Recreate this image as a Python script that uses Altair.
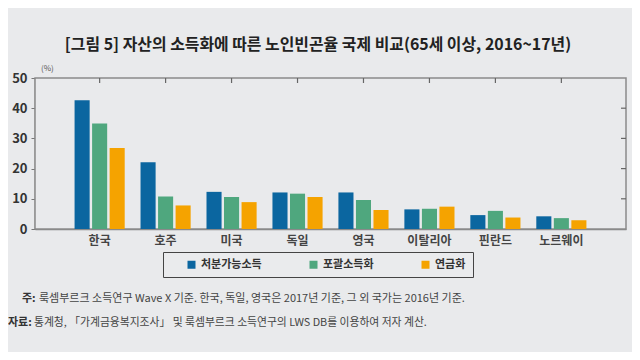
import altair as alt
import pandas as pd

countries = ["한국", "호주", "미국", "독일", "영국", "이탈리아", "핀란드", "노르웨이"]
series = ["처분가능소득", "포괄소득화", "연금화"]
disposable = [42.6, 22.1, 12.3, 12.1, 12.1, 6.5, 4.6, 4.2]
inclusive = [34.9, 10.8, 10.6, 11.7, 9.6, 6.7, 6.0, 3.6]
pension = [26.8, 7.8, 8.9, 10.6, 6.3, 7.4, 3.8, 2.9]
colors = ["#0b66a0", "#4fa77e", "#f5a300"]
y_ticks = [0, 10, 20, 30, 40, 50]

title_text = "[그림 5] 자산의 소득화에 따른 노인빈곤율 국제 비교(65세 이상, 2016~17년)"
note1_head = "주:"
note1 = "룩셈부르크 소득연구 Wave X 기준. 한국, 독일, 영국은 2017년 기준, 그 외 국가는 2016년 기준."
note2_head = "자료:"
note2 = "통계청, 「가계금융복지조사」 및 룩셈부르크 소득연구의 LWS DB를 이용하여 저자 계산."

rows = []
for i, c in enumerate(countries):
    for s, vals in zip(series, [disposable, inclusive, pension]):
        rows.append({"country": c, "series": s, "value": vals[i]})
df = pd.DataFrame(rows)

FONT = "Noto Sans CJK KR"
W, H = 591, 151

y_axis = alt.Axis(title=None, values=y_ticks, grid=False, labelFont=FONT,
                  labelFontSize=13, labelFontWeight="bold", labelColor="#333",
                  labelOverlap=False,
                  tickSize=4, tickColor="#777", labelPadding=4,
                  domainColor="#666", domainWidth=1.5)
y_scale = alt.Scale(domain=[0, 50])

border = alt.Chart(pd.DataFrame({"k": [0]})).mark_rect(
    fill="#e9eaec", stroke="#8a8a8a", strokeWidth=1.5
).encode(x=alt.value(0), x2=alt.value(W), y=alt.value(0), y2=alt.value(H))

bars = alt.Chart(df).mark_bar().encode(
    x=alt.X("country:N", sort=countries,
            scale=alt.Scale(paddingInner=0.24, paddingOuter=0.6),
            axis=alt.Axis(title=None, labelAngle=0, ticks=False, labelFont=FONT,
                          labelFontSize=12, labelFontWeight="bold", labelColor="#444",
                          labelPadding=6, domainColor="#888", domainWidth=1.5)),
    xOffset=alt.XOffset("series:N", sort=series, scale=alt.Scale(paddingInner=0.14)),
    y=alt.Y("value:Q", scale=y_scale, axis=y_axis),
    color=alt.Color("series:N", sort=series,
                    scale=alt.Scale(domain=series, range=colors),
                    legend=alt.Legend(title=None, orient="none", legendX=128, legendY=174,
                                      direction="horizontal", symbolType="square",
                                      symbolSize=64, symbolStrokeWidth=0,
                                      labelFont=FONT, labelFontSize=11,
                                      labelFontWeight="bold", labelColor="#333",
                                      columnPadding=30, padding=7, symbolOffset=16,
                                      strokeColor="#444", fillColor="#eaebed")),
)

top_ticks = alt.Chart(pd.DataFrame({"country": countries})).mark_rule(
    color="#666", strokeWidth=1.2
).encode(x=alt.X("country:N", sort=countries), y=alt.value(0), y2=alt.value(5))

right_ticks = alt.Chart(pd.DataFrame({"value": y_ticks[1:-1]})).mark_rule(
    color="#666", strokeWidth=1.2
).encode(y=alt.Y("value:Q", scale=y_scale, axis=y_axis), x=alt.value(W - 5), x2=alt.value(W))

def txt(text, x, y, size, weight="normal", align="left", color="#333"):
    return alt.Chart(pd.DataFrame({"t": [text]})).mark_text(
        font=FONT, fontSize=size, fontWeight=weight, align=align,
        baseline="middle", color=color
    ).encode(text="t:N", x=alt.value(x), y=alt.value(y))

title = txt(title_text, 283, -33, 15.9, "bold", "center", "#222")
unit = txt("(%)", 6, -9, 8, "normal", "left", "#555")
n1h = txt(note1_head, -13, 221, 11, "bold", "left", "#333")
n1 = txt(note1, 4, 221, 11, "normal", "left", "#444")
n2h = txt(note2_head, -27, 245, 11, "bold", "left", "#333")
n2 = txt(note2, -1, 245, 10.8, "normal", "left", "#444")

chart = alt.layer(border, bars, top_ticks, right_ticks, title, unit, n1h, n1, n2h, n2).properties(
    width=W, height=H,
    autosize=alt.AutoSizeParams(type="none"),
    padding={"left": 27, "top": 70, "right": 6, "bottom": 123},
    background="#e9eaec",
).configure_view(stroke=None).configure_axis(labelFont=FONT)

chart.save("out.html", embed_options={"renderer": "svg", "actions": False})
